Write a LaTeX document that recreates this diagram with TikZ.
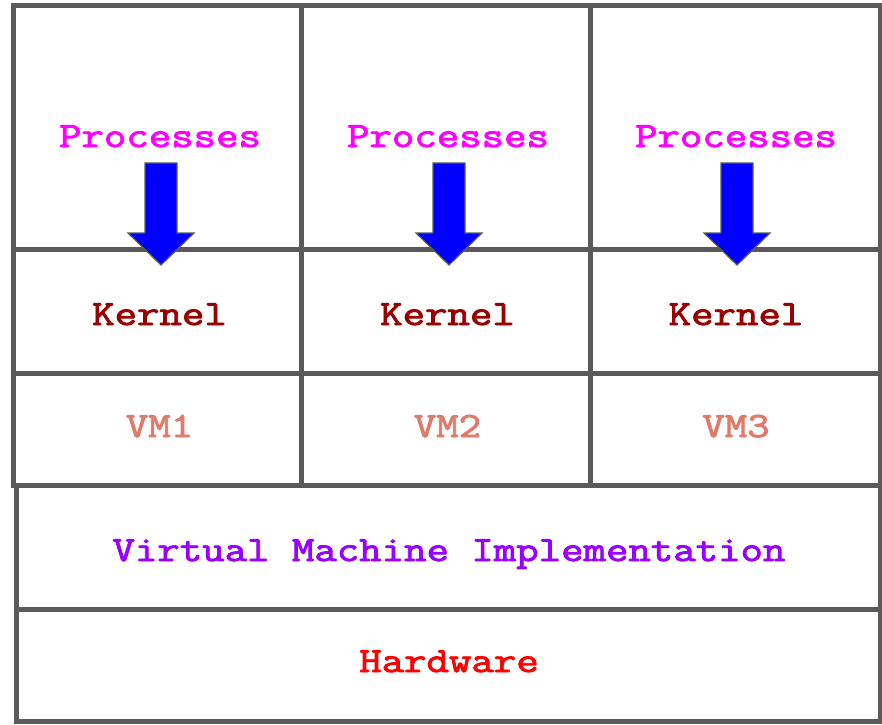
\documentclass[tikz,border=0pt]{standalone}
\usepackage{fontspec}
\newfontfamily\courbold[FakeBold=2.5,FakeStretch=1.227]{Latin Modern Mono}
\begin{document}
\begin{tikzpicture}[x=1pt,y=-1pt]
\definecolor{gridgray}{RGB}{90,90,90}
\definecolor{procmag}{RGB}{255,0,255}
\definecolor{kernred}{RGB}{153,0,0}
\definecolor{vmsalmon}{RGB}{224,122,106}
\definecolor{vmipurple}{RGB}{153,0,255}
\definecolor{hwred}{RGB}{255,0,0}
\definecolor{arrowblue}{RGB}{0,0,255}
\tikzset{
  gridline/.style={draw=gridgray,line width=5pt},
  lbl/.style={anchor=base,inner sep=0pt,font=\courbold\fontsize{35.5}{39}\selectfont},
  blockarrow/.style={fill=arrowblue,draw=gridgray,line width=1.2pt,line join=miter}
}
\useasboundingbox (0,0) rectangle (882,724);
\fill[white] (0,0) rectangle (882,724);
% upper grid
\draw[gridline] (13,5) rectangle (880,485);
\draw[gridline] (301,5) -- (301,485);
\draw[gridline] (590,5) -- (590,485);
\draw[gridline] (13,249) -- (880,249);
\draw[gridline] (13,373) -- (880,373);
% lower part
\draw[gridline] (16,485) rectangle (880,721);
\draw[gridline] (16,609) -- (880,609);
% arrows
\foreach \c in {161,449,737}{
  \draw[blockarrow] (\c-16,163) -- (\c+16,163) -- (\c+16,233) -- (\c+33,233)
    -- (\c,265) -- (\c-33,233) -- (\c-16,233) -- cycle;
}
% labels
\node[lbl,text=procmag] (p1) at (160,147) {Processes};
\node[lbl,text=procmag] (p2) at (448,147) {Processes};
\node[lbl,text=procmag] (p3) at (736,147) {Processes};
\node[lbl,text=kernred] (k1) at (159.5,325) {Kernel};
\node[lbl,text=kernred] (k2) at (447.5,325) {Kernel};
\node[lbl,text=kernred] (k3) at (736,325) {Kernel};
\node[lbl,text=vmsalmon] (v1) at (159.5,437) {VM1};
\node[lbl,text=vmsalmon] (v2) at (447.5,437) {VM2};
\node[lbl,text=vmsalmon] (v3) at (736,437) {VM3};
\node[lbl,text=vmipurple] (vmi) at (449,561) {Virtual Machine Implementation};
\node[lbl,text=hwred] (hw) at (449,672) {Hardware};
\end{tikzpicture}
\end{document}
